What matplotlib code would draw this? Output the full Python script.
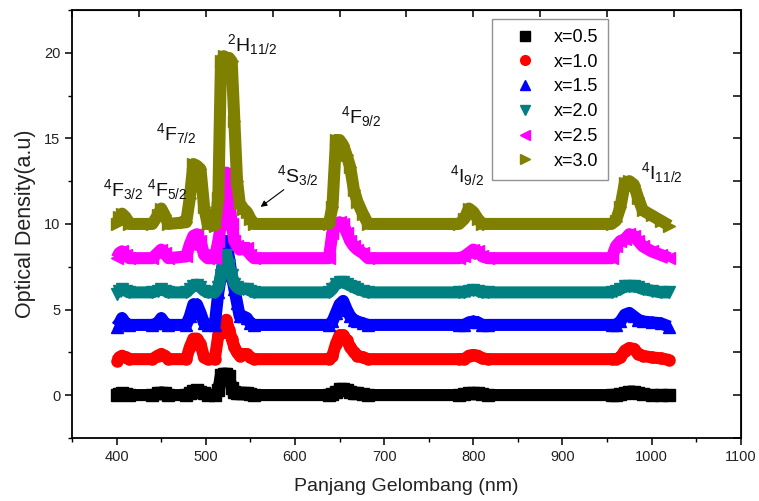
import matplotlib
matplotlib.use("Agg")
import matplotlib.pyplot as plt
from matplotlib.lines import Line2D
from matplotlib.ticker import MultipleLocator

plt.rcParams['font.family'] = ['Liberation Sans', 'DejaVu Sans']
plt.rcParams['mathtext.fontset'] = 'custom'
plt.rcParams['mathtext.rm'] = 'Liberation Sans'

# wavelength points (nm) shared by all series
wl = [400, 403, 406, 410, 414, 440, 446, 450, 454, 458,
      478, 482, 486, 490, 494, 498, 502,
      510, 514, 517, 520, 523, 526, 529, 532, 535, 538, 542, 546, 550, 554,
      638, 642, 646, 650, 654, 658, 662, 666, 670, 676, 682,
      784, 790, 795, 800, 805, 810, 816,
      955, 960, 965, 970, 975, 980, 985, 990, 1000, 1010, 1020]

od_05 = [0.0, 0.05, 0.1, 0.05, 0.0, 0.0, 0.1, 0.15, 0.1, 0.0,
         0.0, 0.15, 0.25, 0.3, 0.2, 0.1, 0.0,
         0.0, 0.3, 1.2, 1.25, 1.25, 1.1, 0.4, 0.2, 0.15, 0.1, 0.1, 0.1, 0.05, 0.0,
         0.0, 0.05, 0.2, 0.35, 0.35, 0.3, 0.2, 0.15, 0.1, 0.05, 0.0,
         0.0, 0.05, 0.1, 0.1, 0.1, 0.05, 0.0,
         0.0, 0.0, 0.05, 0.15, 0.2, 0.2, 0.1, 0.05, 0.0, 0.0, 0.0]
od_10 = [2.0, 2.2, 2.3, 2.2, 2.1, 2.1, 2.3, 2.4, 2.3, 2.1,
         2.1, 2.8, 3.3, 3.3, 3.0, 2.2, 2.1,
         2.1, 3.5, 3.6, 3.7, 4.4, 3.8, 3.3, 2.8, 2.5, 2.3, 2.4, 2.4, 2.2, 2.1,
         2.1, 2.3, 3.0, 3.5, 3.5, 3.2, 2.8, 2.5, 2.3, 2.2, 2.1,
         2.1, 2.1, 2.3, 2.35, 2.3, 2.15, 2.1,
         2.1, 2.1, 2.2, 2.6, 2.75, 2.7, 2.4, 2.3, 2.2, 2.15, 2.05]
od_15 = [4.0, 4.2, 4.5, 4.2, 4.1, 4.1, 4.2, 4.5, 4.2, 4.1,
         4.1, 4.6, 5.3, 5.3, 4.8, 4.2, 4.1,
         4.1, 6.0, 7.0, 8.0, 9.0, 8.0, 7.0, 6.2, 5.4, 4.6, 4.6, 4.5, 4.2, 4.1,
         4.1, 4.3, 4.8, 5.3, 5.5, 5.0, 4.6, 4.4, 4.3, 4.2, 4.1,
         4.1, 4.1, 4.25, 4.3, 4.25, 4.1, 4.1,
         4.1, 4.1, 4.3, 4.7, 4.8, 4.6, 4.4, 4.3, 4.25, 4.2, 4.0]
od_20 = [5.9, 6.1, 6.2, 6.1, 6.0, 6.0, 6.1, 6.2, 6.1, 6.0,
         6.0, 6.2, 6.4, 6.45, 6.3, 6.1, 6.0,
         6.0, 6.3, 7.0, 7.8, 8.2, 7.6, 7.0, 6.5, 6.3, 6.2, 6.2, 6.2, 6.1, 6.0,
         6.0, 6.2, 6.5, 6.6, 6.6, 6.5, 6.4, 6.3, 6.2, 6.1, 6.0,
         6.0, 6.0, 6.1, 6.15, 6.1, 6.0, 6.0,
         6.0, 6.1, 6.2, 6.35, 6.35, 6.35, 6.3, 6.2, 6.1, 6.0, 6.0]
od_25 = [8.0, 8.3, 8.4, 8.2, 8.0, 8.0, 8.3, 8.5, 8.3, 8.0,
         8.1, 8.8, 9.3, 9.4, 9.0, 8.2, 8.0,
         8.0, 9.0, 10.0, 11.5, 13.0, 11.5, 10.0, 9.0, 8.7, 8.5, 8.6, 8.6, 8.2, 8.0,
         8.0, 9.5, 9.9, 10.1, 10.0, 9.5, 9.0, 8.7, 8.5, 8.3, 8.0,
         8.0, 8.1, 8.3, 8.5, 8.4, 8.1, 8.0,
         8.0, 8.7, 9.0, 9.1, 9.4, 9.3, 9.0, 8.7, 8.4, 8.2, 8.0]
od_30 = [10.0, 10.4, 10.6, 10.4, 10.0, 10.0, 10.5, 10.9, 10.5, 10.0,
         10.1, 11.5, 13.5, 13.4, 13.2, 11.0, 10.0,
         9.9, 11.5, 19.5, 19.8, 19.7, 19.7, 19.5, 16.0, 12.5, 11.2, 10.9, 10.7, 10.3, 10.0,
         10.0, 11.0, 14.9, 14.9, 14.6, 14.0, 13.3, 12.0, 11.3, 10.6, 10.0,
         10.0, 10.3, 10.9, 10.7, 10.3, 10.0, 10.0,
         10.0, 10.2, 11.0, 12.4, 12.5, 12.3, 11.5, 10.8, 10.5, 10.2, 9.9]

series = [od_05, od_10, od_15, od_20, od_25, od_30]
labels = ['x=0.5', 'x=1.0', 'x=1.5', 'x=2.0', 'x=2.5', 'x=3.0']
colors = ['#000000', '#ff0000', '#0000ff', '#008080', '#ff00ff', '#808000']
markers = ['s', 'o', '^', 'v', '<', '>']

fig = plt.figure(figsize=(7.59, 5.01), dpi=100)
ax = fig.add_axes([0.095, 0.126, 0.881, 0.854])

for y, c, m in zip(series, colors, markers):
    ax.plot(wl, y, color=c, lw=8.7, marker=m, ms=8, mec=c,
            solid_capstyle='butt', solid_joinstyle='round')

ax.set_xlim(350, 1100)
ax.set_ylim(-2.5, 22.5)
ax.xaxis.set_major_locator(MultipleLocator(100))
ax.xaxis.set_minor_locator(MultipleLocator(50))
ax.yaxis.set_major_locator(MultipleLocator(5))
ax.yaxis.set_minor_locator(MultipleLocator(2.5))
ax.tick_params(which='major', direction='out', length=5, width=1.1,
               labelsize=10.5, labelcolor='#222222')
ax.tick_params(which='minor', direction='out', length=3, width=1.0)
for s in ax.spines.values():
    s.set_linewidth(1.3)

top = ax.secondary_xaxis('top')
top.set_xticks([350, 425, 500, 575, 650, 725, 800, 875, 950, 1025, 1100])
top.set_xticklabels([])
top.tick_params(direction='in', length=5, width=1.1)
right = ax.secondary_yaxis('right')
right.set_yticks([-2.5, 0, 2.5, 5, 7.5, 10, 12.5, 15, 17.5, 20, 22.5])
right.set_yticklabels([])
right.tick_params(direction='in', length=6, width=1.1)

ax.set_xlabel('Panjang Gelombang (nm)', fontsize=14, color='#222222', labelpad=10)
ax.set_ylabel('Optical Density(a.u)', fontsize=15.5, color='#222222', labelpad=6)

# level labels
levels = [(407, 12.0, r'$\mathregular{^4F_{3/2}}$'),
          (457, 12.0, r'$\mathregular{^4F_{5/2}}$'),
          (467, 15.3, r'$\mathregular{^4F_{7/2}}$'),
          (552, 20.5, r'$\mathregular{^2H_{11/2}}$'),
          (603, 12.8, r'$\mathregular{^4S_{3/2}}$'),
          (674, 16.3, r'$\mathregular{^4F_{9/2}}$'),
          (793, 12.8, r'$\mathregular{^4I_{9/2}}$'),
          (1011, 13.0, r'$\mathregular{^4I_{11/2}}$')]
for lx, ly, txt in levels:
    ax.text(lx, ly, txt, fontsize=14, ha='center', va='center', color='#111111')

ax.annotate('', xy=(559, 10.9), xytext=(590, 12.1),
            arrowprops=dict(arrowstyle='-|>', color='black', lw=0.8,
                            mutation_scale=9))

handles = [Line2D([], [], ls='none', marker=m, color=c, ms=7)
           for m, c in zip(markers, colors)]
leg = ax.legend(handles, labels, loc='upper left', bbox_to_anchor=(0.628, 0.979),
                fontsize=13, frameon=True, fancybox=False, borderpad=0.55,
                labelspacing=0.43, handlelength=2.6, handletextpad=0.25,
                borderaxespad=0, markerfirst=True)
leg.get_frame().set_edgecolor('#777777')
leg.get_frame().set_linewidth(1.0)

fig.savefig('out.png', dpi=100)
